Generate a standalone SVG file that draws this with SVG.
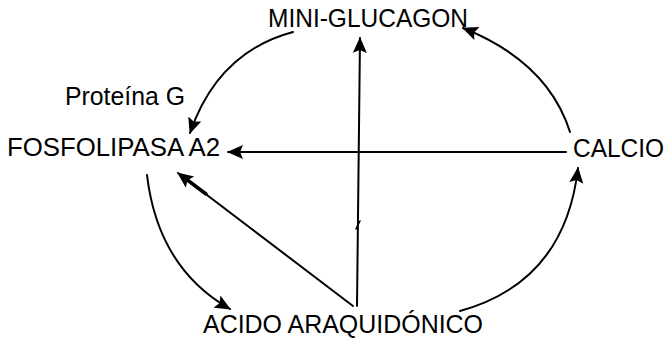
<svg xmlns="http://www.w3.org/2000/svg" width="667" height="339" viewBox="0 0 667 339">
<style>
.lbl{font-family:"Liberation Sans",Arial,sans-serif;font-size:25px;fill:#000}
.c{fill:none;stroke:#000;stroke-width:2;stroke-linecap:round}
</style>
<defs>
<marker id="ah" markerUnits="userSpaceOnUse" markerWidth="17" markerHeight="15" refX="15" refY="7" orient="auto">
<path d="M0,0 L16,7 L0,14 L3,7 z" fill="#000"/>
</marker>
</defs>
<rect width="667" height="339" fill="#fff"/>
<g id="connectors">
<path class="c" d="M293,32 Q218,52 190,133" marker-end="url(#ah)"/>
<path class="c" d="M570,132 Q548,62 463,28" marker-end="url(#ah)"/>
<path class="c" d="M566,152 L228,152" marker-end="url(#ah)"/>
<path class="c" d="M357,306 L360,38" marker-end="url(#ah)"/>
<path class="c" d="M353,306 L178,173" marker-end="url(#ah)"/>
<path class="c" style="stroke-width:3.5" d="M186,179 L206,194"/>
<path class="c" d="M147,175 Q158,268 230,309" marker-end="url(#ah)"/>
<path class="c" d="M460,311 Q565,282 578,168" marker-end="url(#ah)"/>
<path class="c" style="stroke-width:1.5" d="M356,229 L360,221"/>
</g>
<g id="mini-glucagon"><text class="lbl" x="268" y="27" textLength="200" lengthAdjust="spacingAndGlyphs">MINI-GLUCAGON</text></g>
<g id="proteina-g"><text class="lbl" x="65" y="105" textLength="120" lengthAdjust="spacingAndGlyphs">Proteína G</text></g>
<g id="fosfolipasa"><text class="lbl" x="7" y="156" textLength="213" lengthAdjust="spacingAndGlyphs">FOSFOLIPASA A2</text></g>
<g id="calcio"><text class="lbl" x="573" y="157" textLength="91" lengthAdjust="spacingAndGlyphs">CALCIO</text></g>
<g id="acido"><text class="lbl" x="203" y="333" textLength="280" lengthAdjust="spacingAndGlyphs">ACIDO ARAQUIDÓNICO</text></g>
</svg>
